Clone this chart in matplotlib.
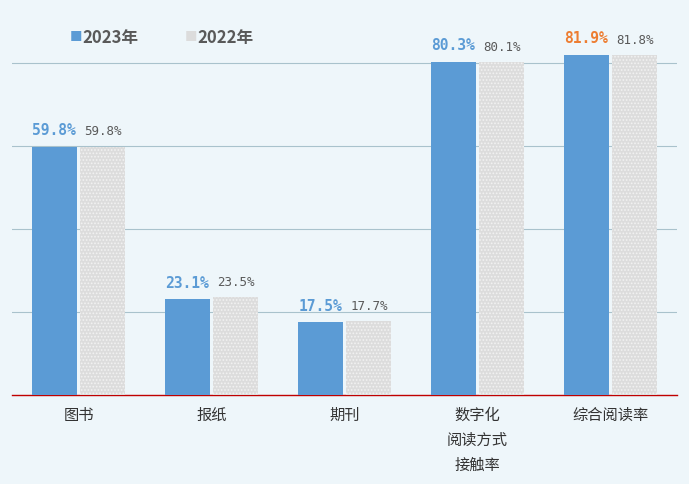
import matplotlib
matplotlib.use("Agg")
import matplotlib.pyplot as plt
import numpy as np

plt.rcParams['font.family'] = ['Noto Sans CJK SC', 'DejaVu Sans']
plt.rcParams['hatch.color'] = '#ffffff'
plt.rcParams['hatch.linewidth'] = 0.8

categories = ["图书", "报纸", "期刊", "数字化\n阅读方式\n接触率", "综合阅读率"]
v2023 = [59.8, 23.1, 17.5, 80.3, 81.9]
v2022 = [59.8, 23.5, 17.7, 80.1, 81.8]

fig = plt.figure(figsize=(6.89, 4.85), dpi=100)
fig.patch.set_facecolor('#eef6fa')
ax = fig.add_axes([12/689, 1-396/485, 665/689, (396-43)/485])
ax.set_facecolor('none')
x = np.arange(len(categories))
w = 0.335
ax.bar(x - w/2 - 0.015, v2023, w, color='#5b9bd5', zorder=3)
ax.bar(x + w/2 + 0.015, v2022, w, color='#dcdcdc', hatch='.....', edgecolor='#f2f2f2', linewidth=0, zorder=3)
for i in range(len(x)):
    c = '#ed7d31' if i == 4 else '#5b9bd5'
    ax.text(x[i] - w/2 - 0.015, v2023[i] + 2.3, f"{v2023[i]}%", ha='center', va='bottom',
            color=c, fontsize=10.5, fontweight='bold', family='DejaVu Sans Mono')
    ax.text(x[i] + w/2 + 0.015, v2022[i] + 2.3, f"{v2022[i]}%", ha='center', va='bottom',
            color='#595959', fontsize=9, family='DejaVu Sans Mono')
ax.set_xlim(-0.5, 4.5)
ax.set_ylim(0, 85)
ax.set_yticks([20, 40, 60, 80])
ax.yaxis.grid(True, color='#a9c2cc', linewidth=0.8, zorder=0)
ax.tick_params(axis='y', length=0, labelleft=False)
ax.tick_params(axis='x', length=0, pad=8)
ax.set_xticks(x)
ax.set_xticklabels(categories, fontsize=11, color='#333333', linespacing=1.6, va='top')
for s in ['top', 'right', 'left']:
    ax.spines[s].set_visible(False)
ax.spines['bottom'].set_color('#c00000')
ax.spines['bottom'].set_linewidth(1)

fig.text(70/689, 1-38/485, "■", color='#5b9bd5', fontsize=9, va='center')
fig.text(82/689, 1-38/485, "2023年", color='#595959', fontsize=12, fontweight='bold', va='center')
fig.text(185/689, 1-38/485, "■", color='#dcdcdc', fontsize=9, va='center')
fig.text(197/689, 1-38/485, "2022年", color='#595959', fontsize=12, fontweight='bold', va='center')
fig.savefig('out.png', dpi=100, facecolor=fig.get_facecolor())
